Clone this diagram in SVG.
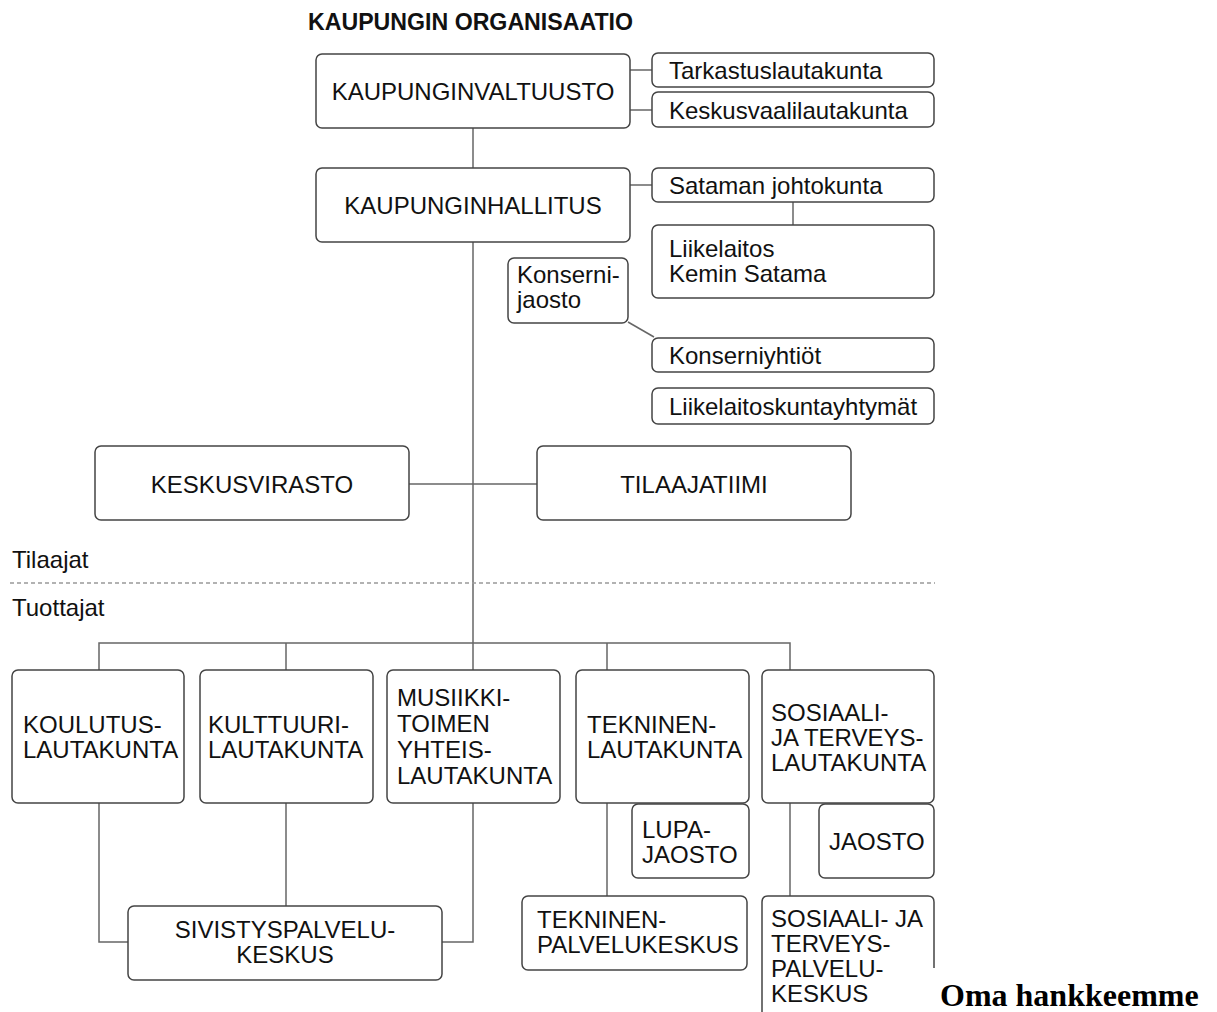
<svg xmlns="http://www.w3.org/2000/svg" width="1217" height="1012" viewBox="0 0 1217 1012">
<style>
.b{fill:#fff;stroke:#444;stroke-width:1.5}
.t{font-family:"Liberation Sans",Arial,sans-serif;font-size:24px;fill:#111}
.m{text-anchor:middle}
.c{fill:none;stroke:#666;stroke-width:1.5}
</style>
<rect width="1217" height="1012" fill="#fff"/>
<text x="308" y="30" font-family="Liberation Sans,Arial,sans-serif" font-weight="bold" font-size="24" textLength="325" lengthAdjust="spacingAndGlyphs" fill="#111">KAUPUNGIN ORGANISAATIO</text>
<g id="connectors">
<line class="c" x1="473" y1="128" x2="473" y2="168"/>
<line class="c" x1="473" y1="242" x2="473" y2="670"/>
<line class="c" x1="630" y1="70" x2="652" y2="70"/>
<line class="c" x1="630" y1="110" x2="652" y2="110"/>
<line class="c" x1="630" y1="185" x2="652" y2="185"/>
<line class="c" x1="793" y1="202" x2="793" y2="225"/>
<line class="c" x1="628" y1="322" x2="654" y2="337"/>
<line class="c" x1="409" y1="484" x2="537" y2="484"/>
<line x1="10" y1="583" x2="935" y2="583" stroke="#999" stroke-width="1.5" stroke-dasharray="4 3"/>
<polyline class="c" points="99,670 99,643 790,643 790,670"/>
<line class="c" x1="286" y1="643" x2="286" y2="670"/>
<line class="c" x1="607" y1="643" x2="607" y2="670"/>
<polyline class="c" points="99,803 99,942 129,942"/>
<line class="c" x1="286" y1="803" x2="286" y2="906"/>
<polyline class="c" points="473,803 473,942 442,942"/>
<line class="c" x1="607" y1="803" x2="607" y2="896"/>
<line class="c" x1="790" y1="803" x2="790" y2="896"/>
</g>
<g id="valtuusto"><rect class="b" x="316" y="54" width="314" height="74" rx="6"/><text class="t m" x="473" y="100">KAUPUNGINVALTUUSTO</text></g>
<g id="tarkastus"><rect class="b" x="652" y="53" width="282" height="34" rx="6"/><text class="t" x="669" y="79">Tarkastuslautakunta</text></g>
<g id="keskusvaali"><rect class="b" x="652" y="92" width="282" height="35" rx="6"/><text class="t" x="669" y="119">Keskusvaalilautakunta</text></g>
<g id="hallitus"><rect class="b" x="316" y="168" width="314" height="74" rx="6"/><text class="t m" x="473" y="214">KAUPUNGINHALLITUS</text></g>
<g id="satama"><rect class="b" x="652" y="168" width="282" height="34" rx="6"/><text class="t" x="669" y="194">Sataman johtokunta</text></g>
<g id="liikelaitos"><rect class="b" x="652" y="225" width="282" height="73" rx="6"/><text class="t" x="669" y="257">Liikelaitos</text><text class="t" x="669" y="282">Kemin Satama</text></g>
<g id="konsernijaosto"><rect class="b" x="508" y="258" width="120" height="65" rx="6"/><text class="t" x="517" y="283">Konserni-</text><text class="t" x="517" y="308">jaosto</text></g>
<g id="konserniyhtiot"><rect class="b" x="652" y="338" width="282" height="34" rx="6"/><text class="t" x="669" y="364">Konserniyhtiöt</text></g>
<g id="liikelaitoskunta"><rect class="b" x="652" y="388" width="282" height="36" rx="6"/><text class="t" x="669" y="415">Liikelaitoskuntayhtymät</text></g>
<g id="keskusvirasto"><rect class="b" x="95" y="446" width="314" height="74" rx="6"/><text class="t m" x="252" y="493">KESKUSVIRASTO</text></g>
<g id="tilaajatiimi"><rect class="b" x="537" y="446" width="314" height="74" rx="6"/><text class="t m" x="694" y="493">TILAAJATIIMI</text></g>
<text class="t" x="12" y="568">Tilaajat</text>
<text class="t" x="12" y="616">Tuottajat</text>
<g id="koulutus"><rect class="b" x="12" y="670" width="172" height="133" rx="6"/><text class="t" x="23" y="733">KOULUTUS-</text><text class="t" x="23" y="758">LAUTAKUNTA</text></g>
<g id="kulttuuri"><rect class="b" x="200" y="670" width="173" height="133" rx="6"/><text class="t" x="208" y="733">KULTTUURI-</text><text class="t" x="208" y="758">LAUTAKUNTA</text></g>
<g id="musiikki"><rect class="b" x="387" y="670" width="173" height="133" rx="6"/><text class="t" x="397" y="706">MUSIIKKI-</text><text class="t" x="397" y="732">TOIMEN</text><text class="t" x="397" y="758">YHTEIS-</text><text class="t" x="397" y="784">LAUTAKUNTA</text></g>
<g id="tekninen"><rect class="b" x="576" y="670" width="173" height="133" rx="6"/><text class="t" x="587" y="733">TEKNINEN-</text><text class="t" x="587" y="758">LAUTAKUNTA</text></g>
<g id="sosiaali"><rect class="b" x="762" y="670" width="172" height="133" rx="6"/><text class="t" x="771" y="721">SOSIAALI-</text><text class="t" x="771" y="746">JA TERVEYS-</text><text class="t" x="771" y="771">LAUTAKUNTA</text></g>
<g id="lupajaosto"><rect class="b" x="632" y="804" width="117" height="74" rx="6"/><text class="t" x="642" y="838">LUPA-</text><text class="t" x="642" y="863">JAOSTO</text></g>
<g id="jaosto"><rect class="b" x="819" y="804" width="115" height="74" rx="6"/><text class="t" x="829" y="850">JAOSTO</text></g>
<g id="sivistys"><rect class="b" x="128" y="906" width="314" height="74" rx="6"/><text class="t m" x="285" y="938">SIVISTYSPALVELU-</text><text class="t m" x="285" y="963">KESKUS</text></g>
<g id="teknpalvelu"><rect class="b" x="522" y="896" width="225" height="74" rx="6"/><text class="t" x="537" y="928">TEKNINEN-</text><text class="t" x="537" y="953">PALVELUKESKUS</text></g>
<g id="sospalvelu"><path class="b" d="M762,1013 V902 Q762,896 768,896 H928 Q934,896 934,902 V968"/><text class="t" x="771" y="927">SOSIAALI- JA</text><text class="t" x="771" y="952">TERVEYS-</text><text class="t" x="771" y="977">PALVELU-</text><text class="t" x="771" y="1002">KESKUS</text></g>
<text x="940" y="1006" font-family="Liberation Serif,Times New Roman,serif" font-weight="bold" font-size="32" fill="#000">Oma hankkeemme</text>
</svg>
